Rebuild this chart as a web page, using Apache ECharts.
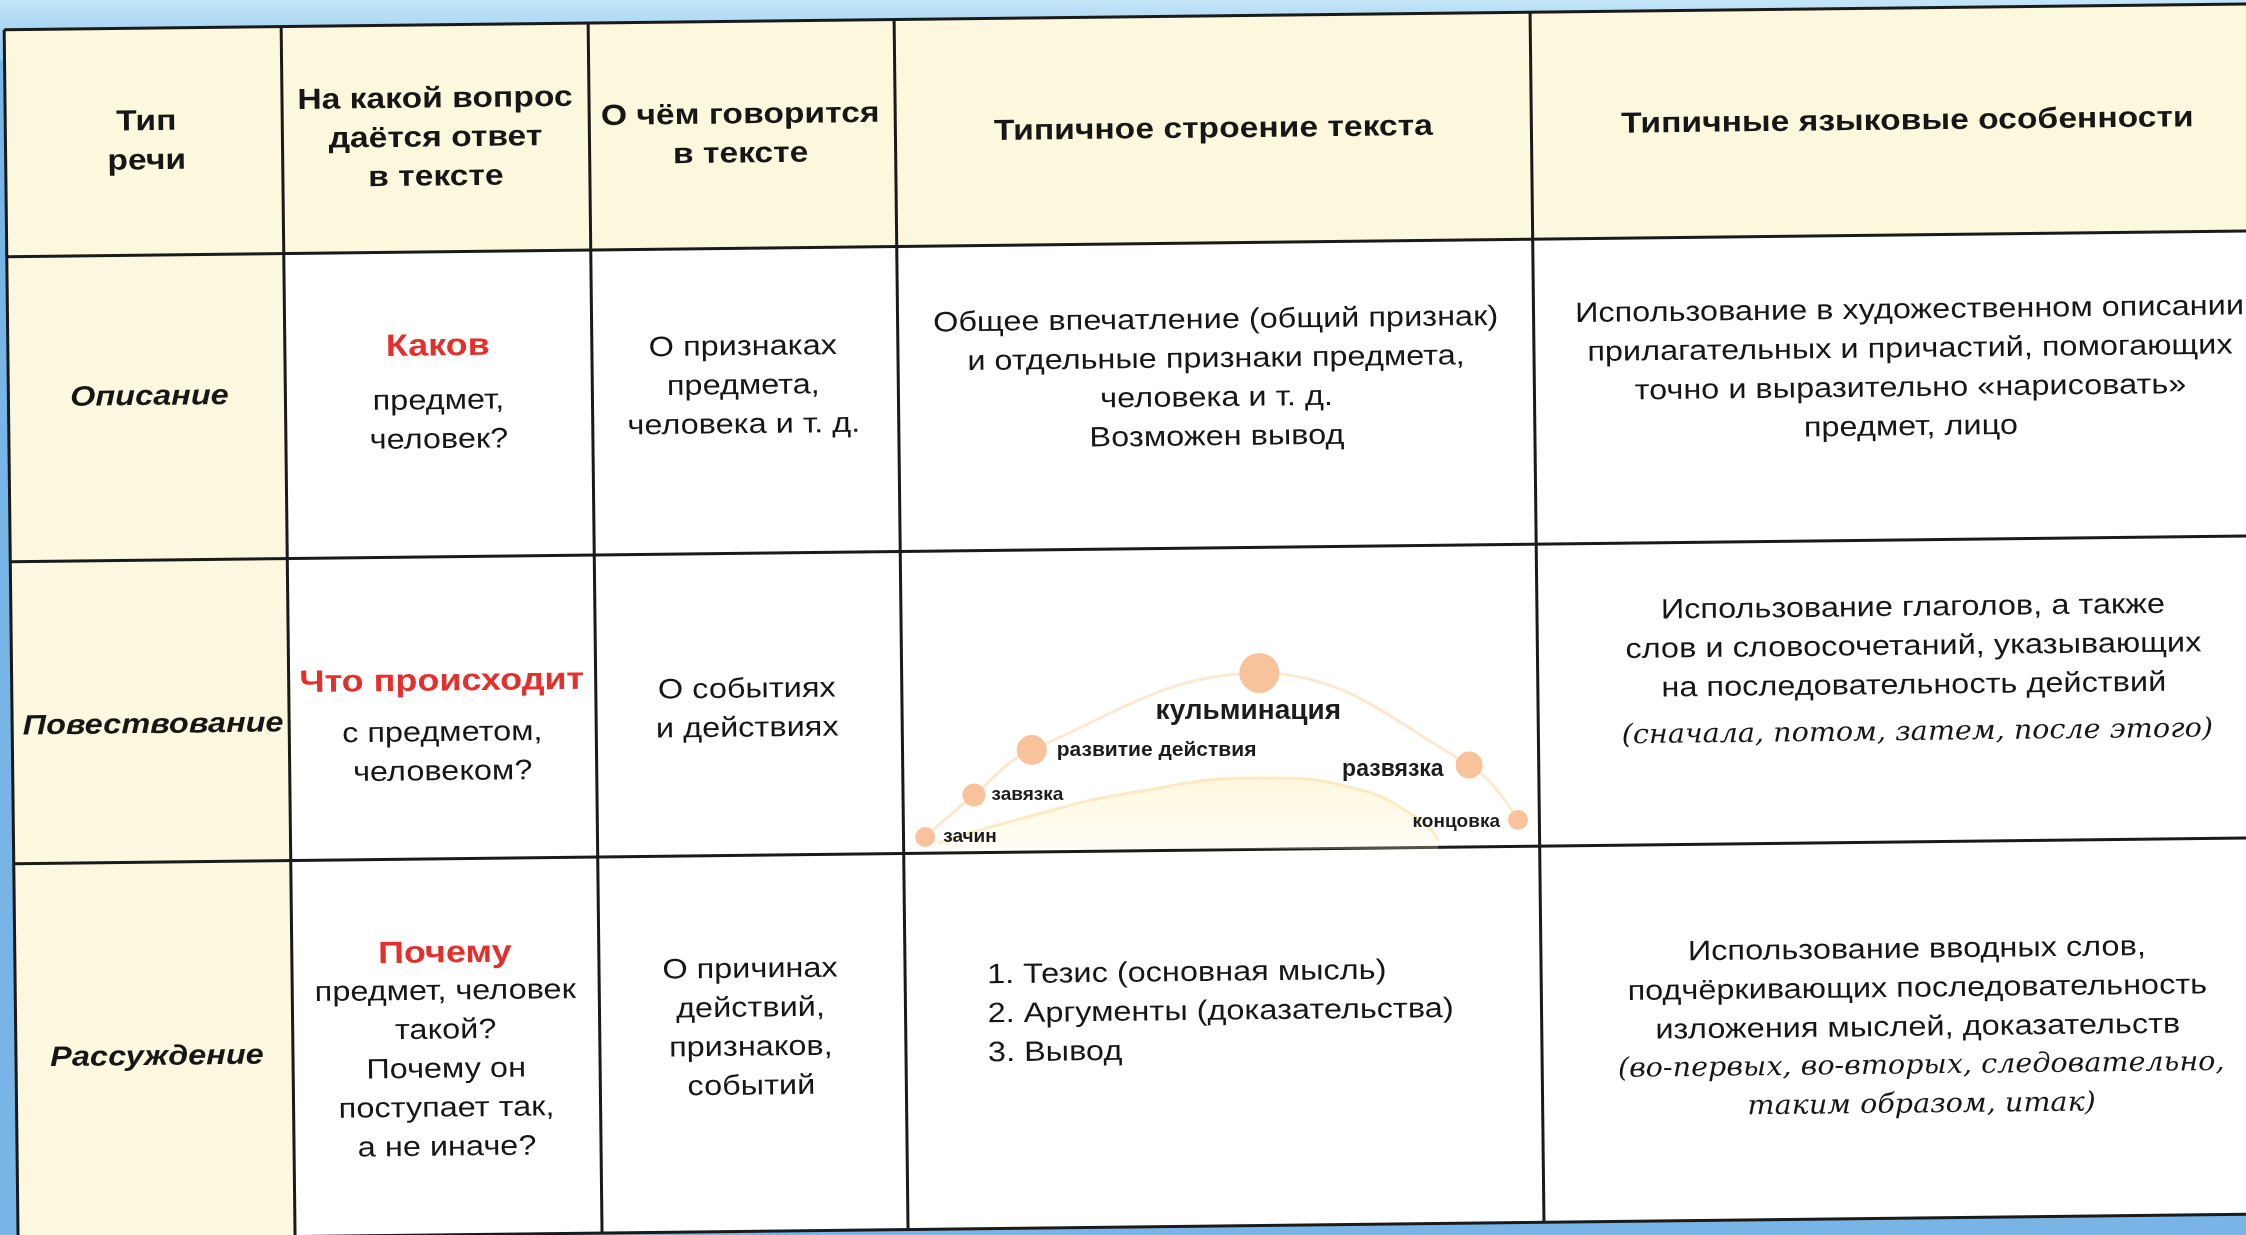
<!DOCTYPE html>
<html><head><meta charset="utf-8">
<script src="https://cdn.jsdelivr.net/npm/echarts@6/dist/echarts.min.js"></script>
<style>html,body{margin:0;padding:0;background:#78b4e6}#c{width:2246px;height:1235px}</style>
</head><body><div id="c"></div><script>
// ---------- content ----------
const headers = ['Тип\nречи', 'На какой вопрос\nдаётся ответ\nв тексте', 'О чём говорится\nв тексте', 'Типичное строение текста', 'Типичные языковые особенности'];
const speechTypes = ['Описание', 'Повествование', 'Рассуждение'];
const questionKeys = ['Каков', 'Что происходит', 'Почему'];
const questionRest = ['предмет,\nчеловек?', 'с предметом,\nчеловеком?', 'предмет, человек\nтакой?\nПочему он\nпоступает так,\nа не иначе?'];
const topics = ['О признаках\nпредмета,\nчеловека и т. д.', 'О событиях\nи действиях', 'О причинах\nдействий,\nпризнаков,\nсобытий'];
const structures = ['Общее впечатление (общий признак)\nи отдельные признаки предмета,\nчеловека и т. д.\nВозможен вывод', '', '1. Тезис (основная мысль)\n2. Аргументы (доказательства)\n3. Вывод'];
const features = ['Использование в художественном описании\nприлагательных и причастий, помогающих\nточно и выразительно «нарисовать»\nпредмет, лицо',
  'Использование глаголов, а также\nслов и словосочетаний, указывающих\nна последовательность действий',
  'Использование вводных слов,\nподчёркивающих последовательность\nизложения мыслей, доказательств'];
const featureExamples = ['', '(сначала, потом, затем, после этого)', '(во-первых, во-вторых, следовательно,\nтаким образом, итак)'];
// plot diagram (narrative arc): stage position along the story (0-100) and tension (0-100)
const plotStages = ['зачин', 'завязка', 'развитие действия', 'кульминация', 'развязка', 'концовка'];
const stageX = [3.5, 11.2, 20.3, 56.2, 89.3, 97];
const stageY = [4, 18, 33, 58.7, 28, 9.7];
const stageWeight = [20, 23, 30, 40, 27, 20];
const domeX = [5.5, 19.6, 35.8, 57.6, 70.3, 80.9, 84.4];
const domeY = [2, 10.7, 18.7, 23.7, 20.7, 10.7, 3];

// ---------- layout ----------
const CX = 1123, CY = 617, ROT = 0.0115;
const colX = [11, 288, 595, 901, 1537, 2289];
const rowY = [17, 244, 549, 851, 1227];
const colC = [152, 441, 746, 1219, 1913];
const SX = 1.16;
const SANS = '"Liberation Sans", Arial, sans-serif';
const INK = '#161616', RED = '#e3302c';

function txt(x, y, text, o) {
  o = o || {};
  return {
    type: 'text', x: x - CX, y: y - CY, scaleX: o.sx || SX, z: 20,
    style: {
      text: text, x: 0, y: 0, align: o.align || 'center', verticalAlign: 'middle',
      fill: o.color || INK, fontFamily: o.family || SANS, fontSize: o.size || 28,
      fontWeight: o.weight || 'normal', fontStyle: o.style || 'normal', lineHeight: o.lh || 39
    }
  };
}
function rect(x1, y1, x2, y2, fill) {
  return { type: 'rect', z: 1, shape: { x: x1 - CX, y: y1 - CY, width: x2 - x1, height: y2 - y1 }, style: { fill: fill } };
}
function line(x1, y1, x2, y2) {
  return { type: 'line', z: 5, shape: { x1: x1 - CX, y1: y1 - CY, x2: x2 - CX, y2: y2 - CY }, style: { stroke: '#1a1a1a', lineWidth: 3 } };
}

const kids = [];
kids.push(rect(colX[0], rowY[0], colX[5], rowY[1], '#fcf8de'));
kids.push(rect(colX[0], rowY[1], colX[1], rowY[4], '#fcf8df'));
kids.push(rect(colX[1], rowY[1], colX[5], rowY[4], '#ffffff'));
rowY.forEach(y => kids.push(line(colX[0], y, colX[5], y)));
colX.slice(0, 5).forEach(x => kids.push(line(x, rowY[0], x, rowY[4])));

const headY = (rowY[0] + rowY[1]) / 2;
headers.forEach((h, i) => kids.push(txt(colC[i], headY, h, { weight: 'bold', size: 29 })));

// row centres for text (measured)
const typeY = [386, 714, 1046];
const keyY = [339, 674, 946];
const restY = [413, 745, 1062];
const topicY = [382, 705, 1024];
const structY = [380, 0, 1013];
const featY = [378, 656, 998];
const exY = [0, 742, 1095];

for (let r = 0; r < 3; r++) {
  kids.push(txt(colC[0], typeY[r], speechTypes[r], { weight: 'bold', style: 'italic', size: 28 }));
  kids.push(txt(colC[1], keyY[r], questionKeys[r], { weight: 'bold', size: 31, color: RED }));
  kids.push(txt(colC[1], restY[r], questionRest[r], {}));
  kids.push(txt(colC[2], topicY[r], topics[r], {}));
  if (structures[r]) {
    if (r === 2) kids.push(txt(983, structY[r], structures[r], { align: 'left' }));
    else kids.push(txt(colC[3], structY[r], structures[r], {}));
  }
  kids.push(txt(colC[4], featY[r], features[r], {}));
  if (featureExamples[r]) kids.push(txt(colC[4] + 3, exY[r], featureExamples[r], { family: '"DejaVu Serif", serif', style: 'italic', size: 27, sx: 1.06 }));
}

// ---------- chart ----------
const labelCfg = [
  { position: 'right', distance: 8, fontSize: 19 },
  { position: 'right', distance: 6, fontSize: 19 },
  { position: 'right', distance: 10, fontSize: 21 },
  { position: 'bottom', distance: 4, fontSize: 28, offset: [-11, 0] },
  { position: 'left', distance: 12, fontSize: 23, offset: [0, 5] },
  { position: 'left', distance: 8, fontSize: 19, offset: [0, 2] }
];

const chart = echarts.init(document.getElementById('c'), null, { renderer: 'canvas' });
chart.setOption({
  animation: false,
  backgroundColor: '#78b4e6',
  grid: { left: 903, top: 549, width: 634, height: 300 },
  xAxis: { type: 'value', min: 0, max: 100, show: false },
  yAxis: { type: 'value', min: 0, max: 100, show: false },
  graphic: [
    { type: 'rect', z: -1, shape: { x: 0, y: 0, width: 2246, height: 60 },
      style: { fill: new echarts.graphic.LinearGradient(0, 0, 0, 1, [{ offset: 0, color: '#c3e5f7' }, { offset: 1, color: '#8fc6ee' }]) } },
    { type: 'group', x: CX, y: CY, rotation: ROT, z: 0, children: kids }
  ],
  series: [
    {
      type: 'line', smooth: 0.5, z: 30, showSymbol: false, silent: true,
      data: domeX.map((x, i) => [x, domeY[i]]),
      lineStyle: { color: '#fbeac4', width: 3 },
      areaStyle: { color: new echarts.graphic.LinearGradient(0, 0, 0, 1, [{ offset: 0, color: 'rgba(255,240,190,0.75)' }, { offset: 1, color: 'rgba(255,247,215,0.35)' }]) }
    },
    {
      type: 'line', smooth: 0.4, z: 31, showSymbol: false, silent: true,
      data: stageX.map((x, i) => [x, stageY[i]]),
      lineStyle: { color: '#fce9d3', width: 3 }
    },
    {
      type: 'scatter', z: 32,
      data: plotStages.map((n, i) => ({
        name: n, value: [stageX[i], stageY[i]], symbolSize: stageWeight[i],
        label: Object.assign({ show: true, formatter: n, color: '#1c1c1c', fontWeight: 'bold', fontFamily: SANS }, labelCfg[i])
      })),
      itemStyle: { color: '#f8c39b', opacity: 1 }
    }
  ]
});
</script></body></html>
